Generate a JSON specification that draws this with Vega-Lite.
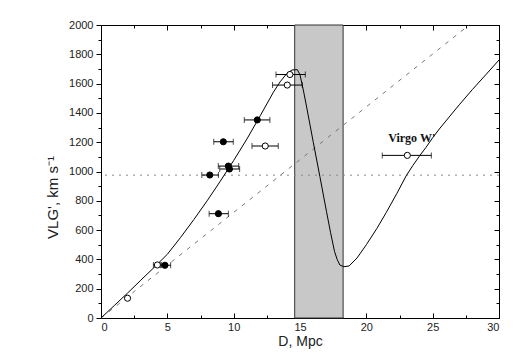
{
  "$schema": "https://vega.github.io/schema/vega-lite/v6.json",
  "width": 398,
  "height": 293,
  "autosize": "none",
  "padding": {"left": 101, "top": 25, "right": 16, "bottom": 40},
  "background": "white",
  "config": {
    "view": {"stroke": "black", "strokeWidth": 1},
    "axis": {
      "domainColor": "black",
      "tickColor": "black",
      "labelFont": "Liberation Sans",
      "labelFontSize": 11,
      "labelColor": "#222",
      "titleFont": "Liberation Sans",
      "titleFontWeight": "normal",
      "titleColor": "#222",
      "grid": false,
      "format": "d"
    }
  },
  "datasets": {
    "band": [{"D1": 14.6, "D2": 18.25, "V1": 0, "V2": 2000}],
    "level": [{"V": 975}],
    "hubble": [{"D": 0, "V": 0}, {"D": 27.75, "V": 2000}],
    "curve": [
      {"D": 0, "V": 0}, {"D": 1, "V": 85}, {"D": 2, "V": 170}, {"D": 3, "V": 258},
      {"D": 4, "V": 345}, {"D": 5, "V": 435}, {"D": 6, "V": 550}, {"D": 7, "V": 672},
      {"D": 8, "V": 800}, {"D": 9, "V": 935}, {"D": 10, "V": 1075}, {"D": 11, "V": 1222},
      {"D": 12, "V": 1380}, {"D": 13, "V": 1542}, {"D": 13.5, "V": 1612}, {"D": 14, "V": 1668},
      {"D": 14.4, "V": 1693}, {"D": 14.8, "V": 1695}, {"D": 15.0, "V": 1660}, {"D": 15.25, "V": 1556},
      {"D": 15.5, "V": 1440}, {"D": 16, "V": 1200}, {"D": 16.5, "V": 965}, {"D": 17, "V": 725},
      {"D": 17.3, "V": 585}, {"D": 17.6, "V": 455}, {"D": 17.8, "V": 400}, {"D": 18.0, "V": 362},
      {"D": 18.3, "V": 350}, {"D": 18.7, "V": 355}, {"D": 19.3, "V": 410}, {"D": 20, "V": 500},
      {"D": 20.8, "V": 612}, {"D": 21.5, "V": 720}, {"D": 22.3, "V": 850}, {"D": 23, "V": 970},
      {"D": 23.5, "V": 1040}, {"D": 24, "V": 1105}, {"D": 24.5, "V": 1165}, {"D": 25, "V": 1230},
      {"D": 25.5, "V": 1290}, {"D": 26, "V": 1345}, {"D": 27, "V": 1455}, {"D": 28, "V": 1560},
      {"D": 29, "V": 1660}, {"D": 30, "V": 1761}
    ],
    "obs": [
      {"D": 4.82, "V": 360, "lo": 4.5, "hi": 5.25, "type": "filled"},
      {"D": 8.2, "V": 976, "lo": 7.6, "hi": 8.85, "type": "filled"},
      {"D": 8.85, "V": 712, "lo": 8.15, "hi": 9.6, "type": "filled"},
      {"D": 9.22, "V": 1203, "lo": 8.5, "hi": 9.97, "type": "filled"},
      {"D": 9.6, "V": 1037, "lo": 8.84, "hi": 10.38, "type": "filled"},
      {"D": 9.68, "V": 1017, "lo": 8.95, "hi": 10.45, "type": "filled"},
      {"D": 11.78, "V": 1352, "lo": 10.8, "hi": 12.73, "type": "filled"},
      {"D": 2.0, "V": 135, "lo": null, "hi": null, "type": "open"},
      {"D": 4.25, "V": 362, "lo": 3.95, "hi": 4.55, "type": "open"},
      {"D": 12.38, "V": 1174, "lo": 11.38, "hi": 13.36, "type": "open"},
      {"D": 14.04, "V": 1590, "lo": 12.93, "hi": 15.17, "type": "open"},
      {"D": 14.24, "V": 1662, "lo": 13.19, "hi": 15.4, "type": "open"},
      {"D": 23.09, "V": 1110, "lo": 21.2, "hi": 24.9, "type": "open"}
    ],
    "label": [{"D": 21.65, "V": 1229, "text": "Virgo W'"}]
  },
  "resolve": {"axis": {"x": "independent", "y": "independent"}},
  "layer": [
    {
      "data": {"name": "band"},
      "mark": {"type": "rect", "fill": "#c8c8c8", "stroke": "#333", "strokeWidth": 1},
      "encoding": {
        "x": {"field": "D1", "type": "quantitative",
          "scale": {"domain": [0, 30], "nice": false, "zero": false},
          "axis": {"orient": "bottom", "values": [0, 5, 10, 15, 20, 25, 30], "tickSize": -5, "labelPadding": 8, "title": "D, Mpc", "titleFontSize": 14, "titlePadding": 2, "domain": true}},
        "x2": {"field": "D2"},
        "y": {"field": "V1", "type": "quantitative",
          "scale": {"domain": [0, 2000], "nice": false, "zero": false},
          "axis": {"orient": "left", "values": [0, 200, 400, 600, 800, 1000, 1200, 1400, 1600, 1800, 2000], "tickSize": 5, "labelPadding": 3, "title": "VLG', km s⁻¹", "titleFontSize": 15, "titlePadding": 8, "titleY": 172}},
        "y2": {"field": "V2"}
      }
    },
    {
      "data": {"name": "level"},
      "mark": {"type": "rule", "color": "#8a8a8a", "strokeWidth": 1, "strokeDash": [2, 5]},
      "encoding": {
        "y": {"field": "V", "type": "quantitative",
          "axis": {"orient": "left", "values": [100, 300, 500, 700, 900, 1100, 1300, 1500, 1700, 1900], "tickSize": 3, "labels": false, "title": null, "domain": false}}
      }
    },
    {
      "data": {"name": "hubble"},
      "mark": {"type": "line", "color": "#777", "strokeWidth": 1, "strokeDash": [4, 6]},
      "encoding": {
        "x": {"field": "D", "type": "quantitative",
          "axis": {"orient": "bottom", "values": [2.5, 7.5, 12.5, 17.5, 22.5, 27.5], "tickSize": -3, "labels": false, "title": null, "domain": false}},
        "y": {"field": "V", "type": "quantitative",
          "axis": {"orient": "right", "values": [0, 200, 400, 600, 800, 1000, 1200, 1400, 1600, 1800, 2000], "tickSize": -5, "labels": false, "title": null, "domain": true}}
      }
    },
    {
      "data": {"name": "curve"},
      "mark": {"type": "line", "color": "black", "strokeWidth": 1},
      "encoding": {
        "x": {"field": "D", "type": "quantitative",
          "axis": {"orient": "top", "values": [0, 5, 10, 15, 20, 25, 30], "tickSize": -5, "labels": false, "title": null, "domain": true}},
        "y": {"field": "V", "type": "quantitative",
          "axis": {"orient": "right", "values": [100, 300, 500, 700, 900, 1100, 1300, 1500, 1700, 1900], "tickSize": -3, "labels": false, "title": null, "domain": false}}
      }
    },
    {
      "data": {"name": "obs"},
      "transform": [{"filter": "datum.lo != null"}],
      "mark": {"type": "errorbar", "ticks": {"size": 6, "thickness": 1, "color": "black"}, "color": "black", "thickness": 1},
      "encoding": {
        "x": {"field": "lo", "type": "quantitative",
          "axis": {"orient": "top", "values": [2.5, 7.5, 12.5, 17.5, 22.5, 27.5], "tickSize": -3, "labels": false, "title": null, "domain": false}},
        "x2": {"field": "hi"},
        "y": {"field": "V", "type": "quantitative", "axis": null}
      }
    },
    {
      "data": {"name": "obs"},
      "mark": {"type": "point", "shape": "circle", "size": 38, "stroke": "black", "strokeWidth": 1, "filled": false, "opacity": 1},
      "encoding": {
        "x": {"field": "D", "type": "quantitative", "axis": null},
        "y": {"field": "V", "type": "quantitative", "axis": null},
        "fill": {"field": "type", "type": "nominal", "scale": {"domain": ["filled", "open"], "range": ["black", "white"]}, "legend": null}
      }
    },
    {
      "data": {"name": "label"},
      "mark": {"type": "text", "align": "left", "baseline": "middle", "font": "Liberation Serif", "fontWeight": "bold", "fontSize": 12, "color": "#111"},
      "encoding": {
        "x": {"field": "D", "type": "quantitative", "axis": null},
        "y": {"field": "V", "type": "quantitative", "axis": null},
        "text": {"field": "text"}
      }
    }
  ]
}
